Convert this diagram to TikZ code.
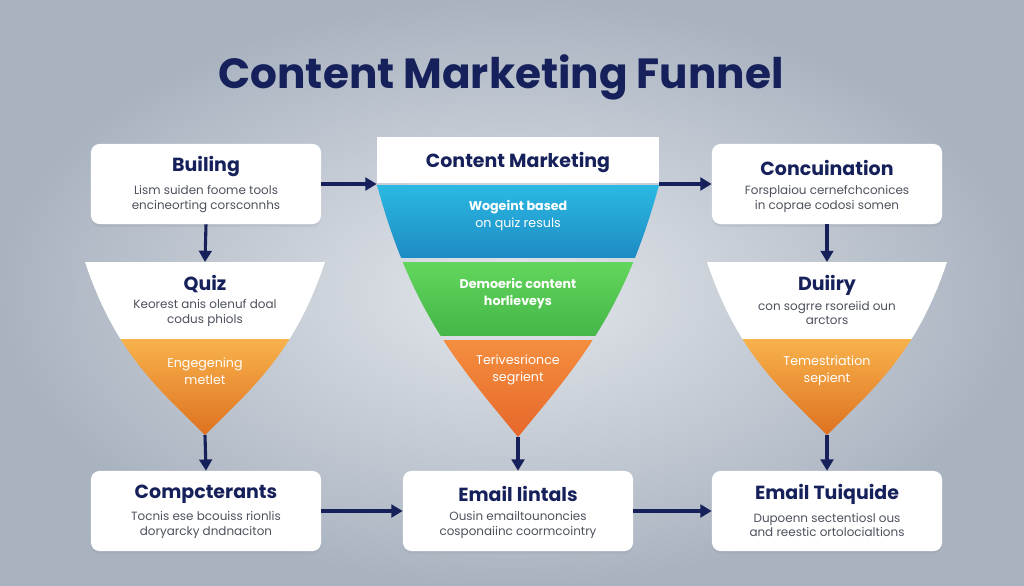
\documentclass[tikz,border=0pt]{standalone}
\usepackage{fontspec}
\setmainfont{Poppins}
\usetikzlibrary{arrows.meta,shadows,calc}

\definecolor{navy}{HTML}{16205A}
\definecolor{bodygrey}{HTML}{4C515C}
\definecolor{bgin}{HTML}{E3E6EB}
\definecolor{bgout}{HTML}{A9B3C0}
\definecolor{blueA}{HTML}{2BB9E3}
\definecolor{blueB}{HTML}{1E8BC4}
\definecolor{greenA}{HTML}{62D65C}
\definecolor{greenB}{HTML}{45B648}
\definecolor{orangeA}{HTML}{F48E3E}
\definecolor{orangeB}{HTML}{E6662A}
\definecolor{ambA}{HTML}{F8B24C}
\definecolor{ambB}{HTML}{DD6E1E}

% funnel outline: centre x, top y, half width, height
\newcommand{\funnelshape}[4]{({#1-#3},#2) .. controls ({#1-0.75*#3},{#2+0.516*#4}) and ({#1-0.41*#3},{#2+0.72*#4}) .. (#1,{#2+#4})
 .. controls ({#1+0.41*#3},{#2+0.72*#4}) and ({#1+0.75*#3},{#2+0.516*#4}) .. ({#1+#3},#2) -- cycle}

\begin{document}
\begin{tikzpicture}[x=0.025cm,y=-0.025cm,
 card/.style={draw=none,fill=white,rounded corners=6pt,minimum width=5.75cm,minimum height=2cm,
   drop shadow={shadow xshift=0pt,shadow yshift=-2pt,opacity=0.12}},
 cardtitle/.style={text=navy,font=\fontsize{13.5}{15}\selectfont\bfseries},
 cardtext/.style={text=bodygrey,align=center,font=\fontsize{8.5}{10.6}\selectfont},
 bandtext/.style={text=white,align=center,font=\fontsize{9}{12}\selectfont},
 flow/.style={draw=navy,line width=2.2pt,-{Triangle[length=8pt,width=9pt]}}]

% background
\shade[inner color=bgin,outer color=bgout] (0,0) rectangle (1024,585);
\useasboundingbox (0,0) rectangle (1024,585);

\node[text=navy,font=\fontsize{30}{34}\selectfont\bfseries] (title) at (501,77) {Content Marketing Funnel};

% cards
\node[card] (build) at (206,184) {};
\node[cardtitle] (buildT) at (206,167) {Builing};
\node[cardtext] (buildD) at (206,199) {Lism suiden foome tools\\encineorting corsconnhs};

\node[card] (conc) at (827,184) {};
\node[cardtitle] (concT) at (827,168) {Concuination};
\node[cardtext] (concD) at (827,199) {Forsplaiou cernefchconices\\in coprae codosi somen};

\node[card] (compc) at (206,511) {};
\node[cardtitle] (compcT) at (206,494) {Compcterants};
\node[cardtext] (compcD) at (206,525) {Tocnis ese bcouiss rionlis\\doryarcky dndnaciton};

\node[card] (lintal) at (518,511) {};
\node[cardtitle] (lintalT) at (518,494) {Email lintals};
\node[cardtext] (lintalD) at (518,525) {Ousin emailtounoncies\\cosponaiinc coormcointry};

\node[card] (tuiq) at (827,511) {};
\node[cardtitle] (tuiqT) at (827,494) {Email Tuiquide};
\node[cardtext] (tuiqD) at (827,525) {Dupoenn sectentiosl ous\\and reestic ortolocialtions};

% centre funnel
\begin{scope}
\clip \funnelshape{518}{185}{141}{252};
\shade[top color=blueA,bottom color=blueB] (370,185) rectangle (670,257);
\shade[top color=greenA,bottom color=greenB] (370,262) rectangle (670,335);
\shade[top color=orangeA,bottom color=orangeB] (370,340) rectangle (670,440);
\end{scope}
\coordinate (cmTip) at (518,437);
\node[fill=white,minimum width=7.05cm,minimum height=1.15cm] (cmHead) at (518,160) {};
\node[cardtitle] (cmHeadT) at (518,163) {Content Marketing};
\node[bandtext] (blueT) at (518,216) {\textbf{Wogeint based}\\on quiz resuls};
\node[bandtext] (greenT) at (518,294) {\textbf{Demoeric content}\\\textbf{horlieveys}};
\node[bandtext] (orangeT) at (518,370) {Terivesrionce\\segrient};

% side funnels
\begin{scope}
\clip \funnelshape{205}{262}{120}{173};
\fill[white] (80,262) rectangle (330,339);
\shade[top color=ambA,bottom color=ambB] (80,339) rectangle (330,440);
\end{scope}
\coordinate (quizTop) at (205,262);
\coordinate (quizTip) at (205,435);
\node[cardtitle] (quizT) at (205,284) {Quiz};
\node[cardtext] (quizD) at (205,313) {Keorest anis olenuf doal\\codus phiols};
\node[bandtext] (quizO) at (205,371) {Engegening\\metlet};

\begin{scope}
\clip \funnelshape{827}{262}{120}{173};
\fill[white] (700,262) rectangle (950,339);
\shade[top color=ambA,bottom color=ambB] (700,339) rectangle (950,440);
\end{scope}
\coordinate (duirTop) at (827,262);
\coordinate (duirTip) at (827,435);
\node[cardtitle] (duirT) at (827,285) {Duiiry};
\node[cardtext] (duirD) at (827,313) {con sogrre rsoreiid oun\\arctors};
\node[bandtext] (duirO) at (827,371) {Temestriation\\sepient};

% connectors
\draw[flow] (build.east) -- (build.east -| cmHead.west);
\draw[flow] (cmHead.east |- conc.west) -- (conc.west);
\draw[flow] (build.south) -- (quizTop);
\draw[flow] (conc.south) -- (duirTop);
\draw[flow] (quizTip) -- (compc.north);
\draw[flow] (cmTip) -- (lintal.north);
\draw[flow] (duirTip) -- (tuiq.north);
\draw[flow] (compc.east) -- (lintal.west);
\draw[flow] (lintal.east) -- (tuiq.west);
\end{tikzpicture}
\end{document}
